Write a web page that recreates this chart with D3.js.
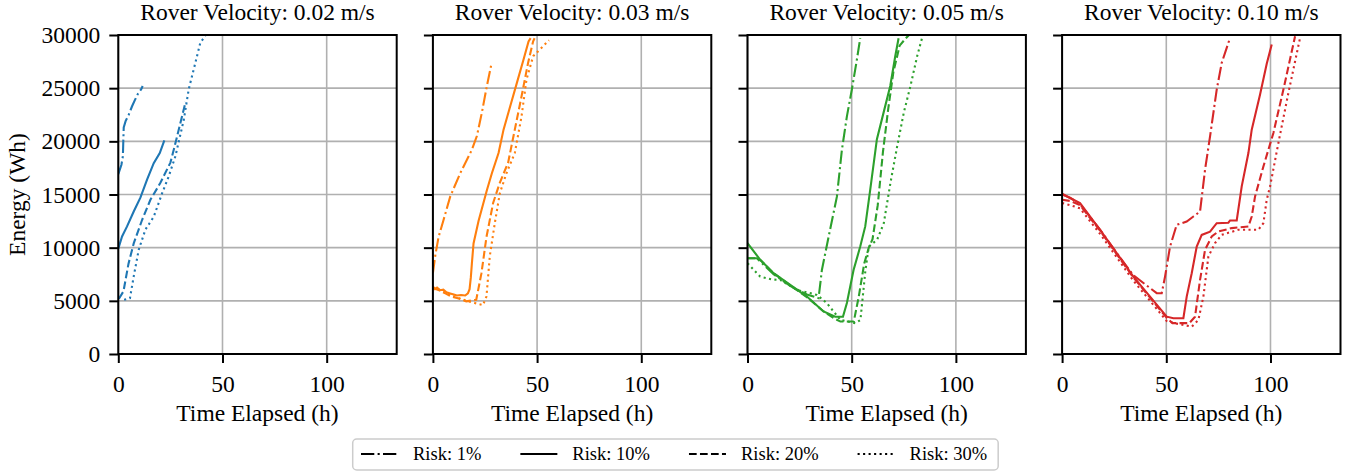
<!DOCTYPE html>
<html>
<head>
<meta charset="utf-8">
<script src="https://cdn.jsdelivr.net/npm/d3@7"></script>
<style>
  body { margin: 0; background: #fff; }
  svg { display: block; }
</style>
</head>
<body>
<script>
// panel titles and legend entries
let velocities = ["0.02", "0.03", "0.05", "0.10"];
let riskLabels = ["Risk: 1%", "Risk: 10%", "Risk: 20%", "Risk: 30%"];
let xTicks = [0, 50, 100];
let yTicks = [0, 5000, 10000, 15000, 20000, 25000, 30000];

// [time (h), energy (Wh)]
let v002_r1 = [[0, 16900], [1.5, 17800], [2.2, 18600], [2.4, 20000], [2.6, 21300], [3.5, 21900], [5, 22500], [6.6, 23300], [8, 23900], [9.5, 24500], [11, 24900], [11.7, 25200]];
let v002_r10 = [[0, 9900], [1.8, 11050], [4.2, 12000], [7.4, 13400], [10.6, 14700], [13.8, 16400], [17, 17950], [19.9, 18900], [22.1, 20100]];
let v002_r20 = [[0.3, 5200], [2.5, 5900], [3.5, 7000], [4.9, 8500], [7.4, 10400], [11.4, 12600], [15.4, 14500], [20.2, 16100], [25, 18000], [27, 19500], [29, 21100], [32.3, 23700]];
let v002_r30 = [[2.8, 5100], [5.6, 5250], [7.4, 7300], [9.8, 9800], [13, 11700], [17, 12900], [21, 15100], [24.2, 16700], [27.4, 18600], [31.4, 22000], [33.8, 24900], [37, 27400], [39.4, 29300], [41.8, 29900]];

let v003_r1 = [[0, 7600], [1.1, 9200], [2.7, 11000], [5.1, 12600], [8.3, 14800], [13.1, 17000], [18.7, 19200], [21.1, 20500], [23.5, 22700], [25.9, 25200], [28, 27200]];
let v003_r10 = [[0, 6350], [1, 6100], [2, 6250], [3.5, 6000], [5, 6050], [6.5, 5800], [8.3, 5700], [10, 5600], [11.5, 5500], [13.5, 5550], [15.5, 5500], [16.8, 5700], [17.6, 6100], [18.2, 7200], [18.7, 8500], [19.5, 10400], [21.9, 12500], [25.9, 15400], [28.3, 17000], [31.5, 18900], [33.9, 21100], [37.1, 23300], [40.3, 25500], [43.5, 27700], [45.9, 29400], [46.9, 29700]];
let v003_r20 = [[0, 6200], [3, 6000], [6, 5700], [9, 5400], [12, 5250], [16, 4950], [20.8, 5100], [23.3, 7600], [25.7, 11000], [28.9, 14200], [32.1, 16100], [36.1, 18000], [39.3, 21100], [42.5, 24200], [45.7, 27400], [48.1, 29400], [48.8, 29700]];
let v003_r30 = [[0, 6200], [3, 6050], [6, 5800], [9, 5500], [12, 5300], [16, 5000], [20, 4800], [24, 4600], [25.7, 5400], [27.3, 9200], [29.7, 12300], [32.1, 15100], [35.3, 17000], [39.3, 18900], [42.5, 22300], [44.9, 25800], [48.1, 28000], [55.7, 29500]];

let v005_r1 = [[0, 9000], [4.5, 9000], [5, 8900], [12.5, 7500], [20.5, 6400], [28.5, 5600], [34.1, 5250], [35.7, 7900], [38.9, 11000], [42.9, 14800], [45.3, 19200], [47.7, 22350], [50.1, 24900], [52.5, 27700], [54.1, 29700]];
let v005_r10 = [[0, 10430], [6.1, 8860], [12.5, 7600], [20.5, 6500], [28.5, 5400], [36.5, 4000], [42.1, 3500], [45.8, 3500], [47.7, 4800], [50.9, 7900], [54.1, 10100], [56.5, 12000], [58.9, 15450], [62.1, 20200], [65.3, 22700], [68.5, 25200], [70.9, 28000], [72.5, 29700]];
let v005_r20 = [[0, 9000], [4.5, 9000], [6.1, 8850], [12.5, 7600], [20.5, 6450], [28.5, 5350], [36.5, 4000], [42, 3300], [44.6, 3050], [51, 3050], [53.4, 5400], [56, 8500], [58.2, 10000], [60, 10800], [62.5, 14000], [65, 19000], [67.5, 23000], [70, 26500], [73, 29000], [76, 29700], [77.5, 30000]];
let v005_r30 = [[0, 8540], [6.1, 7280], [12, 7000], [15.7, 6970], [23.7, 6030], [33.3, 5560], [38, 4800], [44.6, 3200], [51.8, 2900], [54.2, 3200], [56.6, 7900], [58.2, 10100], [62.2, 10740], [65.4, 12300], [68.6, 16100], [71.8, 19500], [75, 22700], [78.2, 25200], [81.4, 28000], [83.8, 29740]];

let v010_r1 = [[0, 15000], [3.8, 14700], [8.6, 14100], [18.2, 11700], [26.2, 9500], [34.2, 7400], [42.2, 6200], [45.4, 5720], [47.8, 5720], [49.4, 7280], [51.8, 10100], [55, 12150], [59.8, 12460], [63, 12930], [66.2, 13400], [68.6, 17330], [71, 20470], [74.2, 24870], [76.6, 27380], [80.6, 29740]];
let v010_r10 = [[0, 15070], [3.8, 14670], [8.6, 14200], [18.2, 11680], [26.2, 9490], [34.2, 7280], [42.2, 5400], [50.2, 3510], [53.4, 3360], [58.2, 3360], [59.8, 5400], [62.2, 7600], [64.6, 10100], [67, 11200], [71, 11500], [74.2, 12300], [79.8, 12350], [80.6, 12560], [83.8, 12560], [86.2, 15760], [89.4, 18900], [91, 21100], [95, 24400], [98.2, 27300], [100.6, 29100]];
let v010_r20 = [[0, 14500], [3.8, 14400], [8.6, 14000], [18.2, 11600], [26.2, 9400], [34.2, 7200], [42.2, 5300], [50.2, 3400], [53, 2900], [61, 2900], [63.8, 3510], [66.2, 6970], [68.6, 9800], [71.8, 11050], [75, 11520], [81.4, 11840], [89.4, 11990], [91, 12930], [92.6, 14820], [96.6, 17640], [101.4, 20790], [106.2, 24870], [111.8, 29890]];
let v010_r30 = [[0, 14200], [3.8, 14000], [8.6, 13700], [18.2, 11300], [26.2, 9100], [34.2, 6900], [42.2, 5000], [50.2, 3100], [54.2, 2890], [62.2, 2570], [65.4, 3200], [67.8, 5400], [70.2, 9170], [73.4, 10430], [76.6, 11210], [84.6, 11680], [94.2, 11680], [96.6, 12310], [98.2, 14510], [99.8, 15760], [103.8, 19850], [108.6, 24560], [114.2, 29740]];

let panels = [
    [v002_r1, v002_r10, v002_r20, v002_r30],
    [v003_r1, v003_r10, v003_r20, v003_r30],
    [v005_r1, v005_r10, v005_r20, v005_r30],
    [v010_r1, v010_r10, v010_r20, v010_r30]
];

let colors = ['#1f77b4', '#ff7f0e', '#2ca02c', '#d62728'];
let dashes = ['13.3,3.3,2.1,3.3', null, '7.7,3.3', '2.1,3.4'];

let width = 1354;
let height = 472;
let font = "'Liberation Serif', 'Times New Roman', serif";
let fontSize = "23.5px";
let panelLeft = 118.3;
let panelStep = 314.6;
let panelWidth = 278.4;
let plotTop = 35;
let plotBottom = 354;
let plotHeight = plotBottom - plotTop;

let svg = d3.select("body")
    .append("svg")
    .attr("width", width)
    .attr("height", height);

let xScale = d3.scaleLinear()
    .domain([0, 133.6])
    .range([0, panelWidth]);
let yScale = d3.scaleLinear()
    .domain([0, 30000])
    .range([plotHeight, 0]);

svg.append("defs")
    .append("clipPath")
    .attr("id", "clip")
    .append("rect")
    .attr("x", 0)
    .attr("y", 0)
    .attr("width", panelWidth)
    .attr("height", plotHeight);

let line = d3.line()
    .x((d) => xScale(d[0]))
    .y((d) => yScale(d[1]));

panels.forEach((series, p) => {
    let g = svg.append("g")
        .attr("transform", "translate(" + (panelLeft + p * panelStep) + "," + plotTop + ")");

    // grid
    g.selectAll(".gx")
        .data(xTicks)
        .join("line")
        .attr("x1", (d) => xScale(d))
        .attr("x2", (d) => xScale(d))
        .attr("y1", 0)
        .attr("y2", plotHeight)
        .attr("stroke", "#b0b0b0")
        .attr("stroke-width", 1.6);
    g.selectAll(".gy")
        .data(yTicks)
        .join("line")
        .attr("x1", 0)
        .attr("x2", panelWidth)
        .attr("y1", (d) => yScale(d))
        .attr("y2", (d) => yScale(d))
        .attr("stroke", "#b0b0b0")
        .attr("stroke-width", 1.6);

    let lines = g.append("g").attr("clip-path", "url(#clip)");
    series.forEach((s, i) => {
        lines.append("path")
            .attr("d", line(s))
            .attr("fill", "none")
            .attr("stroke", colors[p])
            .attr("stroke-width", 2.1)
            .attr("stroke-dasharray", dashes[i]);
    });

    // axes
    let xAxis = d3.axisBottom(xScale)
        .tickValues(xTicks)
        .tickSizeInner(9)
        .tickSizeOuter(0)
        .tickPadding(12);
    let yAxis = d3.axisLeft(yScale)
        .tickValues(yTicks)
        .tickSizeInner(9)
        .tickSizeOuter(0)
        .tickPadding(9)
        .tickFormat(p == 0 ? d3.format("d") : () => "");

    let ax = g.append("g")
        .attr("transform", "translate(0," + plotHeight + ")")
        .call(xAxis);
    let ay = g.append("g").call(yAxis);
    [ax, ay].forEach((a) => {
        a.select(".domain").remove();
        a.selectAll("line").attr("stroke", "#000").attr("stroke-width", 2);
        a.selectAll("text")
            .attr("fill", "#000")
            .style("font-family", font)
            .style("font-size", fontSize);
    });

    // frame
    g.append("rect")
        .attr("x", 0)
        .attr("y", 0)
        .attr("width", panelWidth)
        .attr("height", plotHeight)
        .attr("fill", "none")
        .attr("stroke", "#000")
        .attr("stroke-width", 2);

    g.append("text")
        .attr("x", panelWidth / 2)
        .attr("y", 19.5 - plotTop)
        .attr("text-anchor", "middle")
        .style("font-family", font)
        .style("font-size", fontSize)
        .text("Rover Velocity: " + velocities[p] + " m/s");

    g.append("text")
        .attr("x", panelWidth / 2)
        .attr("y", 421 - plotTop)
        .attr("text-anchor", "middle")
        .style("font-family", font)
        .style("font-size", fontSize)
        .text("Time Elapsed (h)");
});

svg.append("text")
    .attr("transform", "translate(24.5," + ((plotTop + plotBottom) / 2) + ") rotate(-90)")
    .attr("text-anchor", "middle")
    .style("font-family", font)
    .style("font-size", fontSize)
    .text("Energy (Wh)");

// legend, laid out from the measured label widths
let legend = svg.append("g");
let box = legend.append("rect")
    .attr("y", 439)
    .attr("height", 31)
    .attr("rx", 4)
    .attr("fill", "#fff")
    .attr("stroke", "#cccccc")
    .attr("stroke-width", 1.5);

let legendFont = 18.5;
let handleLen = 37;
let handlePad = 15;
let colGap = 39;
let x = 361;
riskLabels.forEach((label, i) => {
    legend.append("line")
        .attr("x1", x)
        .attr("x2", x + handleLen)
        .attr("y1", 454)
        .attr("y2", 454)
        .attr("stroke", "#000")
        .attr("stroke-width", 2.1)
        .attr("stroke-dasharray", dashes[i]);
    let t = legend.append("text")
        .attr("x", x + handleLen + handlePad)
        .attr("y", 460)
        .style("font-family", font)
        .style("font-size", legendFont + "px")
        .text(label);
    x += handleLen + handlePad + t.node().getComputedTextLength() + colGap;
});
let boxLeft = 352.7;
let boxRight = x - colGap + 11;
box.attr("x", boxLeft).attr("width", boxRight - boxLeft);
</script>
</body>
</html>
